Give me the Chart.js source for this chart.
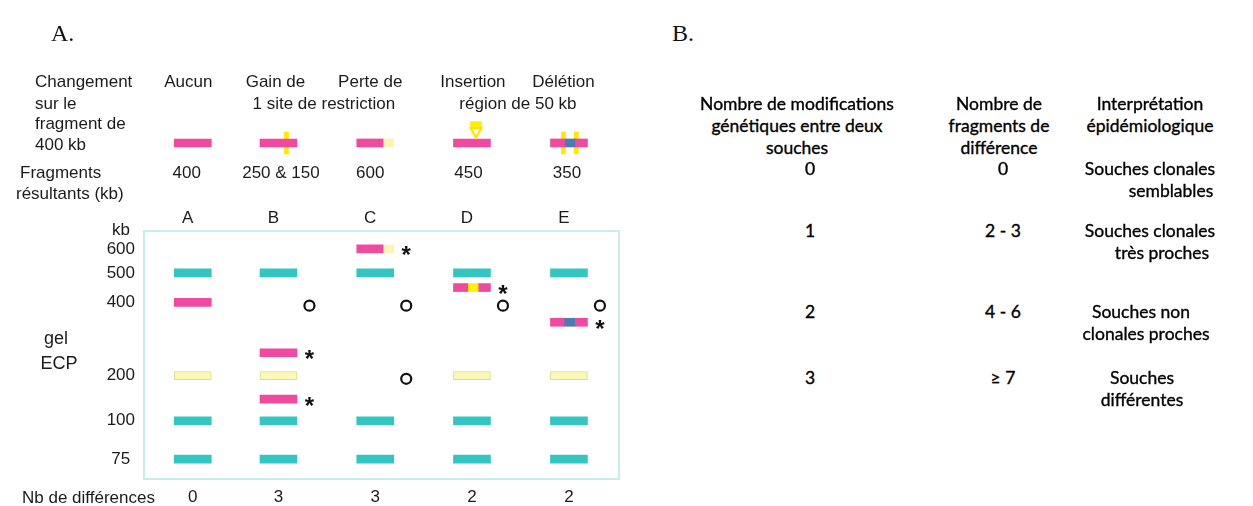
<!DOCTYPE html>
<html>
<head>
<meta charset="utf-8">
<script src="https://cdn.jsdelivr.net/npm/chart.js@4.4.0/dist/chart.umd.min.js"></script>
<style>
html,body{margin:0;padding:0;background:#fff;}
#wrap{position:relative;width:1253px;height:506px;overflow:hidden;background:#fff;}
#gel{position:absolute;left:0;top:0;}
.c{position:absolute;white-space:nowrap;transform:translate(-50%,-50%);line-height:1;}
.l{position:absolute;white-space:nowrap;transform:translateY(-50%);line-height:1;}
.sans{font-family:"Liberation Sans",Arial,sans-serif;font-size:17px;color:#1b1b1b;}
.cal{font-family:Lato,"Open Sans",sans-serif;font-size:17.5px;color:#000;-webkit-text-stroke:0.35px #000;}
.serif{font-family:"Liberation Serif","Times New Roman",serif;font-size:24px;color:#111;}
</style>
</head>
<body>
<div id="wrap"><canvas id="gel" width="660" height="506"></canvas></div>
<script>
// ---------------- DATA ----------------
const lanes = ['A', 'B', 'C', 'D', 'E'];
const changeLabels = ['Aucun', 'Gain de', 'Perte de', 'Insertion', 'Délétion'];
const changeGroups = ['1 site de restriction', 'région de 50 kb'];
const resultingKb = ['400', '250 & 150', '600', '450', '350'];
const nbDifferences = [0, 3, 3, 2, 2];
const ladderKb = [600, 500, 400, 200, 100, 75];
const sizeKb    = [600, 500, 450, 400, 350, 250, 200, 150, 100, 75];
const migration = [7.2, 16.9, 22.8, 28.8, 36.8, 49.1, 58.3, 67.8, 76.5, 92.0];
const bandLane = ['A','B','C','D','E', 'A', 'A','B','D','E', 'A','B','C','D','E', 'A','B','C','D','E', 'B','B','C','D','E'];
const bandKb   = [500,500,500,500,500, 400, 200,200,200,200, 100,100,100,100,100, 75,75,75,75,75, 250,150,600,450,350];
const bandType = ['marker','marker','marker','marker','marker', 'intact', 'pale','pale','pale','pale',
                  'marker','marker','marker','marker','marker', 'marker','marker','marker','marker','marker',
                  'split','split','loss','insertion','deletion'];
const lostLane = ['B', 'C', 'D', 'E', 'C'];
const lostKb   = [400, 400, 400, 400, 200];
const newLane  = ['B', 'B', 'C', 'D', 'E'];
const newKb    = [250, 150, 600, 450, 350];
const headerType = ['intact', 'split', 'loss', 'insertion', 'deletion'];
const tableHead = [['Nombre de modifications', 'génétiques entre deux', 'souches'],
                   ['Nombre de', 'fragments de', 'différence'],
                   ['Interprétation', 'épidémiologique']];
const nbModifications = ['0', '1', '2', '3'];
const nbFragments = ['0', '2 - 3', '4 - 6', '≥ 7'];
const interpretation = [['Souches clonales', 'semblables'], ['Souches clonales', 'très proches'],
                        ['Souches non', 'clonales proches'], ['Souches', 'différentes']];

// ---------------- LAYOUT / STYLE ----------------
const LANE_X = [0.504, 1.389, 2.389, 3.388, 4.39];
const X_MAX = 4.907;
const HALF = 0.191;
const HEADER_ROW = -35.5;
const MARK_DX = 0.32;
const COL = {teal:'#33c5c2', pink:'#ef4a9f', pale:'#faf5b6', paleLine:'#fbf8b8', yellow:'#fff000', blue:'#4a7cb3'};
const gelPattern = {
  marker: [['teal',0,1]], intact: [['pink',0,1]], pale: [['paleLine',0,1]], split: [['pink',0,1]],
  loss: [['pink',0,0.713],['pale',0.713,1]],
  insertion: [['pink',0,0.386],['yellow',0.386,0.684],['pink',0.684,1]],
  deletion: [['pink',0,0.368],['blue',0.368,0.676],['pink',0.676,1]]
};
const headPattern = {
  intact: [['pink',0,1]], split: [['pink',0,1]], loss: [['pink',0,0.713],['pale',0.713,1]],
  insertion: [['pink',0,1]], deletion: [['pink',0,0.38],['blue',0.38,0.68],['pink',0.68,1]]
};
const mig = kb => migration[sizeKb.indexOf(kb)];
const li = l => lanes.indexOf(l);
const segs = {teal:[], pink:[], pale:[], paleLine:[], yellow:[], blue:[]};
const xAt = (i, f) => LANE_X[i] - HALF + 2 * HALF * f;
function addBand(i, y, pat) { pat.forEach(([c, f0, f1]) => segs[c].push({y: y, x: [xAt(i, f0), xAt(i, f1)]})); }
bandLane.forEach((l, k) => addBand(li(l), mig(bandKb[k]), gelPattern[bandType[k]]));
headerType.forEach((t, i) => addBand(i, HEADER_ROW, headPattern[t]));
const ticksData = [];
const squareData = [];
const triData = [];
headerType.forEach((t, i) => {
  const tw = 0.021;
  if (t === 'split') ticksData.push({y: HEADER_ROW, x: [xAt(i, 0.716) - tw, xAt(i, 0.716) + tw]});
  if (t === 'deletion') { [0.35, 0.70].forEach(f => ticksData.push({y: HEADER_ROW, x: [xAt(i, f) - tw, xAt(i, f) + tw]})); }
  if (t === 'insertion') { squareData.push({y: -42.7, x: [xAt(i, 0.46), xAt(i, 0.76)]}); triData.push({x: xAt(i, 0.61), y: -40.2}); }
});

const bar = (data, color, thick, extra) => Object.assign({type:'bar', indexAxis:'y', data: data, backgroundColor: color,
  barThickness: thick, grouped: false, clip: false, borderWidth: 0}, extra || {});
const datasets = [
  bar(segs.teal, COL.teal, 8),
  bar(segs.pink, COL.pink, 8),
  bar(segs.pale, COL.pale, 8),
  bar(segs.paleLine, COL.paleLine, 8, {borderWidth: 1, borderColor: '#e2dc8a', borderSkipped: false}),
  bar(segs.yellow, COL.yellow, 8),
  bar(segs.blue, COL.blue, 8),
  bar(ticksData, '#ffe900', 22),
  bar(squareData, '#ffee00', 7),
  {type:'scatter', indexAxis:'x', data: lostLane.map((l, k) => ({x: LANE_X[li(l)] + MARK_DX, y: mig(lostKb[k]) + 1.3})),
   pointStyle:'circle', radius:5, borderWidth:2.2, borderColor:'#111', backgroundColor:'#fff', clip:false}
];

const boxPlugin = {
  id: 'gelBox',
  beforeDatasetsDraw(chart) {
    const a = chart.chartArea, ctx = chart.ctx;
    ctx.save(); ctx.strokeStyle = '#c8eeea'; ctx.lineWidth = 2;
    ctx.strokeRect(a.left, a.top, a.right - a.left, a.bottom - a.top); ctx.restore();
  }
};
// insertion arrow (outside the plot area, so drawn here through the scales)
const arrowPlugin = {
  id: 'arrow',
  afterDatasetsDraw(chart) {
    const ctx = chart.ctx, xs = chart.scales.x, ys = chart.scales.y;
    ctx.save(); ctx.fillStyle = '#ffffff'; ctx.strokeStyle = '#ffe600';
    triData.forEach(p => {
      Chart.helpers.drawPoint(ctx, {pointStyle: 'triangle', rotation: 180, radius: 6.3, borderWidth: 2},
        xs.getPixelForValue(p.x), ys.getPixelForValue(p.y));
    });
    ctx.restore();
  }
};
const starPlugin = {
  id: 'stars',
  afterDatasetsDraw(chart) {
    const ctx = chart.ctx, xs = chart.scales.x, ys = chart.scales.y;
    ctx.save(); ctx.fillStyle = '#111'; ctx.font = 'bold 24px "Liberation Sans", Arial';
    ctx.textAlign = 'center'; ctx.textBaseline = 'alphabetic';
    const m = ctx.measureText('*');
    const mid = (m.actualBoundingBoxAscent - m.actualBoundingBoxDescent) / 2;
    newLane.forEach((l, k) => {
      const x = xs.getPixelForValue(LANE_X[li(l)] + MARK_DX);
      const y = ys.getPixelForValue(mig(newKb[k])) + 2;
      ctx.fillText('*', x, y + mid);
    });
    ctx.restore();
  }
};

const tickFont = {family: '"Liberation Sans", Arial, sans-serif', size: 17};
const laneTicks = s => { s.ticks = LANE_X.map(v => ({value: v})); };
const chart = new Chart(document.getElementById('gel'), {
  type: 'bar',
  data: {datasets: datasets},
  plugins: [boxPlugin, arrowPlugin, starPlugin],
  options: {
    responsive: false, animation: false, devicePixelRatio: 1, indexAxis: 'y',
    layout: {padding: {left: 0, right: 41, top: 0, bottom: 0}},
    plugins: {legend: {display: false}, tooltip: {enabled: false}},
    scales: {
      x: {type: 'linear', position: 'top', min: 0, max: X_MAX, offset: false,
          grid: {display: false, drawTicks: false}, border: {display: false},
          afterBuildTicks: laneTicks, afterFit: s => { s.height = 231; },
          ticks: {autoSkip: false, maxRotation: 0, padding: 2, labelOffset: -5, font: tickFont, color: '#1b1b1b',
                  callback: (v, i) => lanes[i]}},
      x2: {type: 'linear', axis: 'x', position: 'bottom', min: 0, max: X_MAX, offset: false,
          grid: {display: false, drawTicks: false}, border: {display: false},
          afterBuildTicks: laneTicks, afterFit: s => { s.height = 27; },
          ticks: {autoSkip: false, maxRotation: 0, padding: 8, font: tickFont, color: '#1b1b1b',
                  callback: (v, i) => String(nbDifferences[i])}},
      y: {type: 'linear', position: 'left', reverse: true, min: 0, max: 100, offset: false,
          grid: {display: false, drawTicks: false}, border: {display: false},
          afterBuildTicks: s => { s.ticks = ladderKb.map(k => ({value: mig(k)})); },
          afterFit: s => { s.width = 144; },
          ticks: {autoSkip: false, crossAlign: 'center', padding: 9, font: tickFont, color: '#1b1b1b',
                  callback: (v, i) => String(ladderKb[i])}}
    }
  }
});

// ---------------- TEXT ----------------
const wrap = document.getElementById('wrap');
function txt(s, x, y, cls, center) {
  const d = document.createElement('div');
  d.className = (center ? 'c ' : 'l ') + cls; d.textContent = s;
  d.style.left = x + 'px'; d.style.top = y + 'px'; wrap.appendChild(d); return d;
}
txt('A.', 51, 33, 'serif', false);
txt('B.', 672, 33, 'serif', false);
['Changement', 'sur le', 'fragment de', '400 kb'].forEach((s, k) => txt(s, 35, [81, 103, 123, 144][k], 'sans', false));
txt('Fragments', 20, 172, 'sans', false);
txt('résultants (kb)', 16, 193, 'sans', false);
txt('kb', 121, 229, 'sans', true);
const gE = txt('gel', 56, 338, 'sans', true); gE.style.fontSize = '18px';
const eE = txt('ECP', 59, 363, 'sans', true); eE.style.fontSize = '18px';
txt('Nb de différences', 22, 497, 'sans', false);
const xs = chart.scales.x;
const lx = i => xs.getPixelForValue(LANE_X[i]);
const changeDx = [-4.5, -3, -5, 1, -5.5];
changeLabels.forEach((s, i) => txt(s, lx(i) + changeDx[i], 81, 'sans', true));
txt(changeGroups[0], (lx(1) + lx(2)) / 2 - 3, 103, 'sans', true);
txt(changeGroups[1], (lx(3) + lx(4)) / 2 - 2.5, 103, 'sans', true);
const resultDx = [-6, 2.5, -5, -3.5, -2];
resultingKb.forEach((s, i) => txt(s, lx(i) + resultDx[i], 172, 'sans', true));

// table B
const headX = [797, 999, 1150];
const headY = [104, 126, 148];
tableHead.forEach((lines, c) => lines.forEach((s, k) => txt(s, headX[c], headY[k], 'cal', true)));
const rowY = [169, 231, 312, 378];
const LINE = 22;
const valX = [810, 1003];
const interX = [[1150, 1171], [1150, 1162], [1141, 1146], [1142, 1142]];
nbModifications.forEach((s, r) => txt(s, valX[0], rowY[r], 'cal', true));
nbFragments.forEach((s, r) => txt(s, valX[1], rowY[r], 'cal', true));
interpretation.forEach((lines, r) => lines.forEach((s, k) => txt(s, interX[r][k], rowY[r] + k * LINE, 'cal', true)));
</script>
</body>
</html>
